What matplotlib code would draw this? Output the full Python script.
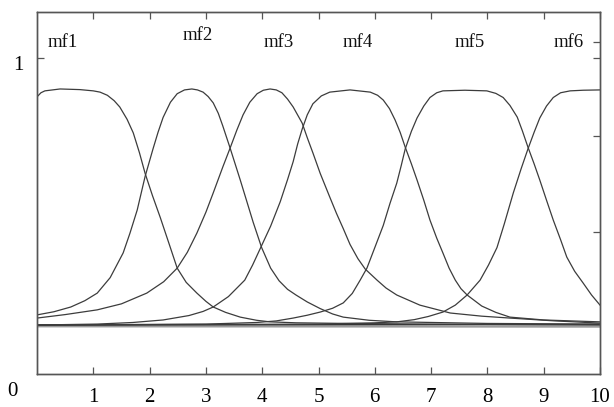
import numpy as np
import matplotlib
matplotlib.use("Agg")
import matplotlib.pyplot as plt

# membership curves (x, degree)
mf1_x = [0.0, 0.07, 0.14, 0.41, 0.76, 1.0, 1.12, 1.25, 1.37, 1.47, 1.6, 1.71, 1.82, 1.92, 2.05, 2.19,
         2.35, 2.49, 2.65, 2.84, 3.0, 3.13, 3.35, 3.61, 3.9, 4.14, 4.6, 5.5, 7.0, 10.0]
mf1_y = [0.877, 0.890, 0.896, 0.902, 0.900, 0.896, 0.892, 0.882, 0.865, 0.845, 0.806, 0.763, 0.700, 0.635,
         0.565, 0.495, 0.410, 0.335, 0.290, 0.256, 0.230, 0.212, 0.195, 0.180, 0.170, 0.165, 0.162, 0.160,
         0.158, 0.155]

mf2_x = [0.0, 0.3, 0.6, 0.85, 1.07, 1.3, 1.53, 1.65, 1.78, 1.92, 2.06, 2.15, 2.24, 2.37, 2.49, 2.62, 2.75,
         2.85, 2.95, 3.04, 3.13, 3.22, 3.30, 3.43, 3.61, 3.72, 3.84, 3.99, 4.15, 4.30, 4.45, 4.60, 4.80,
         5.03, 5.25, 5.44, 5.9, 6.39, 8.0, 10.0]
mf2_y = [0.187, 0.197, 0.212, 0.232, 0.256, 0.305, 0.383, 0.445, 0.519, 0.625, 0.712, 0.765, 0.812, 0.860,
         0.887, 0.899, 0.902, 0.899, 0.892, 0.878, 0.858, 0.825, 0.785, 0.715, 0.614, 0.550, 0.480, 0.400,
         0.335, 0.295, 0.268, 0.250, 0.228, 0.207, 0.190, 0.180, 0.170, 0.165, 0.160, 0.158]

mf3_x = [0.0, 0.5, 1.07, 1.5, 1.95, 2.25, 2.49, 2.67, 2.84, 3.0, 3.13, 3.30, 3.43, 3.55, 3.66, 3.78, 3.91,
         4.02, 4.14, 4.25, 4.35, 4.45, 4.55, 4.71, 4.80, 4.90, 5.03, 5.20, 5.32, 5.44, 5.56, 5.70, 5.83,
         6.04, 6.20, 6.39, 6.8, 7.34, 7.9, 8.40, 9.2, 10.0]
mf3_y = [0.177, 0.188, 0.203, 0.222, 0.256, 0.292, 0.335, 0.385, 0.446, 0.512, 0.573, 0.655, 0.715, 0.772,
         0.820, 0.860, 0.887, 0.898, 0.902, 0.899, 0.890, 0.870, 0.845, 0.794, 0.748, 0.700, 0.635, 0.560,
         0.508, 0.460, 0.410, 0.365, 0.332, 0.297, 0.272, 0.250, 0.218, 0.193, 0.183, 0.177, 0.168, 0.161]

mf4_x = [0.0, 1.07, 1.7, 2.24, 2.70, 2.95, 3.13, 3.40, 3.69, 3.83, 3.96, 4.15, 4.32, 4.45, 4.55, 4.63,
         4.71, 4.80, 4.90, 5.05, 5.20, 5.56, 5.92, 6.05, 6.15, 6.26, 6.36, 6.45, 6.54, 6.65, 6.75, 6.87,
         6.98, 7.10, 7.21, 7.32, 7.43, 7.53, 7.64, 7.90, 8.15, 8.40, 9.0, 10.0]
mf4_y = [0.155, 0.158, 0.163, 0.171, 0.185, 0.198, 0.212, 0.245, 0.297, 0.345, 0.395, 0.468, 0.545, 0.615,
         0.672, 0.728, 0.775, 0.820, 0.855, 0.880, 0.892, 0.899, 0.892, 0.882, 0.867, 0.840, 0.804, 0.765,
         0.718, 0.665, 0.614, 0.550, 0.487, 0.430, 0.383, 0.335, 0.297, 0.270, 0.250, 0.215, 0.195, 0.180,
         0.171, 0.165]

mf5_x = [0.0, 3.0, 3.9, 4.25, 4.55, 4.8, 5.03, 5.25, 5.44, 5.60, 5.74, 5.86, 6.0, 6.15, 6.27, 6.39, 6.47,
         6.54, 6.65, 6.75, 6.87, 6.98, 7.10, 7.21, 7.6, 7.99, 8.15, 8.28, 8.40, 8.53, 8.62, 8.72, 8.83,
         8.93, 9.05, 9.17, 9.30, 9.41, 9.55, 9.70, 9.85, 10.0]
mf5_y = [0.155, 0.158, 0.163, 0.168, 0.177, 0.186, 0.196, 0.208, 0.225, 0.255, 0.297, 0.335, 0.400, 0.470,
         0.540, 0.604, 0.660, 0.712, 0.768, 0.810, 0.848, 0.875, 0.890, 0.896, 0.898, 0.896, 0.888, 0.875,
         0.850, 0.813, 0.770, 0.718, 0.665, 0.614, 0.550, 0.487, 0.425, 0.370, 0.325, 0.288, 0.250, 0.218]

mf6_x = [0.0, 5.0, 6.0, 6.39, 6.70, 6.95, 7.21, 7.43, 7.64, 7.87, 8.02, 8.17, 8.30, 8.46, 8.60, 8.72, 8.83,
         8.93, 9.05, 9.17, 9.30, 9.47, 9.7, 10.0]
mf6_y = [0.155, 0.158, 0.162, 0.165, 0.172, 0.182, 0.196, 0.218, 0.250, 0.297, 0.345, 0.400, 0.475, 0.573,
         0.650, 0.712, 0.765, 0.810, 0.848, 0.875, 0.890, 0.896, 0.898, 0.899]

base_x = [0.0, 10.0]
base_dark = [0.155, 0.157]
base_grey = [0.151, 0.150]

labels = ["mf1", "mf2", "mf3", "mf4", "mf5", "mf6"]
label_x = [0.46, 2.86, 4.30, 5.70, 7.69, 9.45]
label_y = [1.05, 1.07, 1.05, 1.05, 1.05, 1.05]

xticks = [1, 2, 3, 4, 5, 6, 7, 8, 9, 10]

plt.rcParams['font.family'] = ['Liberation Serif', 'DejaVu Serif']

fig = plt.figure(figsize=(6.14, 4.07), dpi=100)
ax = fig.add_axes([37 / 614, 1 - 374 / 407, 563 / 614, 362 / 407])

line_col = '#3c3c3c'
ax.plot(base_x, base_grey, color='#9a9a9a', lw=1.6)
ax.plot(base_x, base_dark, color='#333333', lw=1.0)
for xs, ys in [(mf1_x, mf1_y), (mf2_x, mf2_y), (mf3_x, mf3_y),
               (mf4_x, mf4_y), (mf5_x, mf5_y), (mf6_x, mf6_y)]:
    ax.plot(xs, ys, color=line_col, lw=0.9)

for name, lx, ly in zip(labels, label_x, label_y):
    ax.text(lx, ly, name, ha='center', va='center', fontsize=13.5, color='#111111')

ax.set_xlim(0, 10)
ax.set_ylim(0, 362 / 316)

ax.set_xticks(xticks)
ax.set_xticklabels([str(t) for t in xticks], fontsize=15)
ax.tick_params(axis='x', which='both', direction='in', length=5, width=0.9,
               color='#555555', top=True, pad=10)
ax.set_yticks([1.0])
ax.set_yticklabels([''])
ax.tick_params(axis='y', direction='in', length=5, width=0.9, color='#555555')

# extra inward ticks on the right spine
ax_r = ax.twinx()
ax_r.set_ylim(ax.get_ylim())
ax_r.set_yticks([1.05, 1.0, 0.753, 0.449])
ax_r.set_yticklabels([])
ax_r.tick_params(axis='y', direction='in', length=5, width=0.9, color='#555555')

for a in (ax, ax_r):
    for s in a.spines.values():
        s.set_color('#555555')
        s.set_linewidth(1.0)

# axis value labels that sit outside the box
ax.text(-25 / 56.3, (374 - 391) / 316, "0", ha='center', va='center', fontsize=15,
        clip_on=False)
ax.text(-19 / 56.3, (374 - 65) / 316, "1", ha='center', va='center', fontsize=15,
        clip_on=False)

fig.savefig("out.png", dpi=100)
